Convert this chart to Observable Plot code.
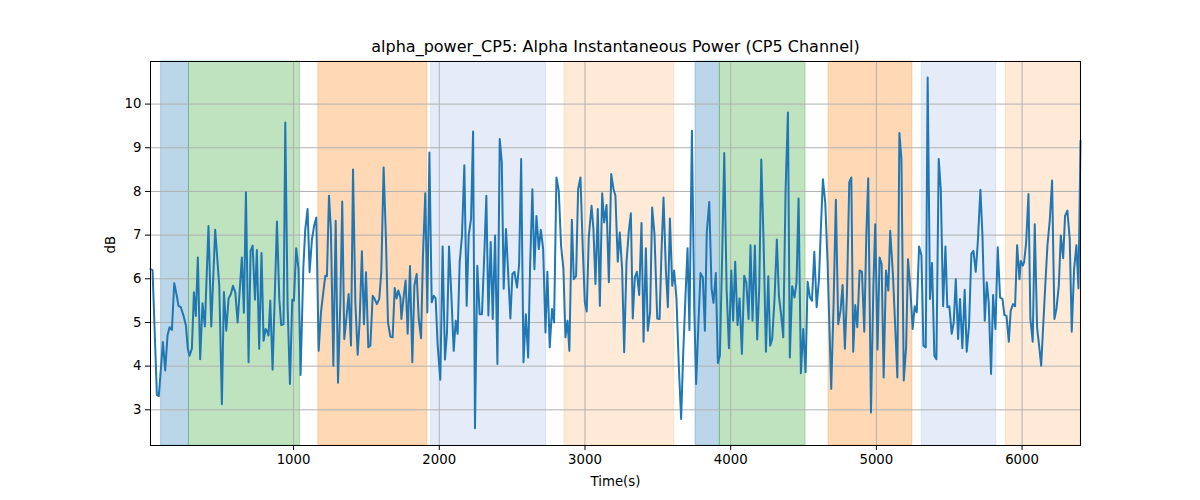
<!DOCTYPE html>
<html><head><meta charset="utf-8">
<script src="https://cdn.jsdelivr.net/npm/d3@7"></script>
<script src="https://cdn.jsdelivr.net/npm/@observablehq/plot@0.6"></script>
<style>body{margin:0;background:#fff;font-family:"DejaVu Sans",sans-serif;}</style>
</head><body><div id="chart"></div>
<script>
const title = "alpha_power_CP5: Alpha Instantaneous Power (CP5 Channel)";
const xLabel = "Time(s)";
const yLabel = "dB";
const xTicks = [1000, 2000, 3000, 4000, 5000, 6000];
const yTicks = [3, 4, 5, 6, 7, 8, 9, 10];

const spanStart = [91, 282, 1170, 1944, 2859, 3759, 3926, 4672, 5311, 5888];
const spanEnd   = [282, 1044, 1918, 2733, 3613, 3926, 4514, 5247, 5824, 6401];
const spanKind  = ["blue", "green", "orange", "lightblue", "lightorange", "blue", "green", "orange", "lightblue", "lightorange"];

const time = [
18,32,62,75,103,119,135,149,165,181,199,210,226,245,261,274,286,302,316,329,343,359,375,391,416,435,462,490,508,522,538,554,570,584,600,616,645,659,673,691,705,719,735,748,764,780,794,808,819,828,840,856,886,902,915,931,943,959,975,991,1002,1018,1034,1048,1067,1080,1096,1110,1126,1142,1156,1172,1188,1204,1218,1229,1243,1256,
1273,1289,1305,1321,1334,1348,1362,1378,1394,1408,1424,1440,1453,1469,1483,1497,1513,1527,1543,1556,1572,1588,1602,1618,1634,1648,1664,1680,1694,1707,1719,1733,1740,1756,1769,1783,1799,1815,1829,1845,1859,1875,1888,1904,1918,1932,1948,1962,1975,1989,2007,2023,2039,2053,2067,2083,2099,2113,2126,2140,2156,2172,2188,2202,2218,2232,2245,2261,2277,2293,2310,2323,2337,2353,2367,2383,2399,2415,2429,2442,2458,2472,2488,2502,2516,2534,2548,
2562,2578,2594,2610,2623,2639,2653,2667,2683,2697,2713,2729,2742,2758,2774,2788,2804,2820,2836,2852,2866,2880,2893,2910,2923,2939,2953,2969,2985,2999,3012,3026,3045,3058,3072,3088,3102,3118,3132,3148,3164,3180,3196,3209,3225,3239,3255,3269,3285,3301,3315,3328,3342,3356,3372,3388,3402,3418,3431,3447,3461,3477,3496,3512,3525,3539,3555,3569,3583,3599,3612,3628,3644,3660,3674,3690,3704,3717,3734,3750,3763,3779,3793,3809,3823,
3836,3853,3869,3882,3898,3912,3926,3942,3956,3972,3988,4004,4017,4031,4047,4061,4077,4093,4107,4123,4136,4150,4166,4182,4196,4210,4226,4242,4258,4271,4285,4301,4317,4331,4347,4361,4377,4393,4406,4422,4438,4452,4466,4482,4498,4514,4528,4544,4558,4574,4590,4606,4619,4633,4649,4665,4690,4706,4722,4738,4754,4768,4784,4798,4814,4828,4841,4855,4869,4885,4901,4917,4931,4944,4963,4979,4992,5008,5022,5036,5050,5066,5082,5095,
5114,5128,5144,5158,5172,5188,5204,5217,5233,5249,5263,5277,5293,5309,5323,5339,5352,5368,5382,5398,5412,5428,5442,5458,5474,5487,5501,5517,5531,5545,5561,5574,5590,5606,5620,5636,5652,5666,5682,5696,5714,5728,5744,5758,5771,5787,5801,5817,5833,5849,5865,5879,5893,5909,5922,5938,5952,5966,5982,5991,6005,6014,6028,6044,6057,6073,6087,6103,6117,6131,6158,6174,6190,6206,6222,6236,6252,6266,6282,6295,6311,6327,6341,6357,6373,6387,6401
];
const power = [
6.22,6.2,3.34,3.31,4.55,3.9,4.71,4.89,4.83,5.9,5.6,5.38,5.35,5.15,4.93,4.4,4.24,4.4,5.69,5.15,6.49,4.16,5.44,4.91,7.21,4.91,7.12,5.84,3.13,5.7,4.81,5.55,5.65,5.84,5.69,5.0,6.49,5.22,7.98,4.09,6.64,6.76,5.52,6.66,4.4,6.59,4.58,4.85,4.79,4.7,5.5,3.92,7.31,5.54,4.94,4.96,9.58,5.38,3.59,5.52,5.5,6.7,6.22,3.8,6.26,7.12,7.6,6.15,6.9,7.23,7.4,4.35,5.23,5.69,6.07,6.06,7.9,7.14,
4.01,7.33,3.62,5.46,7.77,4.62,5.08,5.65,4.47,8.5,5.46,4.26,5.0,6.63,4.96,6.15,4.43,4.47,5.61,5.54,5.42,5.54,6.15,8.55,6.91,5.0,4.68,4.66,5.79,5.55,5.73,5.57,5.08,5.61,5.96,4.74,6.29,4.09,5.84,6.11,5.08,4.64,6.53,7.96,5.23,8.89,5.46,5.61,5.55,4.47,3.69,6.74,4.15,4.77,6.74,5.61,4.35,5.04,4.74,6.38,6.99,8.6,5.38,6.99,7.37,9.37,2.58,6.3,5.19,5.19,6.64,7.9,5.16,6.84,5.08,6.99,4.05,9.2,8.67,5.77,7.14,6.19,5.09,6.11,6.16,5.8,6.34,
8.74,4.09,5.19,4.2,6.22,8.05,6.22,7.44,6.68,7.12,6.68,4.77,6.16,4.43,5.31,5.0,8.32,8.02,6.76,6.22,4.66,5.04,4.35,7.35,5.99,6.06,8.05,8.32,6.68,5.46,5.25,6.95,7.67,7.14,5.88,7.6,5.38,7.96,7.29,7.69,5.92,8.4,8.05,7.9,6.39,7.06,6.22,4.32,6.38,7.1,7.5,5.09,6.03,6.16,5.63,7.28,4.56,6.7,4.81,5.23,7.63,7.02,5.09,5.08,6.6,7.86,6.22,5.35,7.38,5.84,6.19,5.54,4.01,2.79,4.28,5.61,6.7,4.83,9.39,5.31,3.59,5.0,6.13,6.03,4.81,
7.06,7.76,5.77,5.45,6.13,4.07,4.24,6.6,8.88,5.77,4.41,6.19,5.04,6.39,4.94,5.55,4.28,6.07,5.92,5.08,6.77,5.04,6.76,4.61,5.78,8.73,6.83,4.33,6.06,4.47,4.62,5.54,6.9,5.61,5.15,4.66,8.04,9.81,4.2,5.83,5.57,5.92,7.84,3.84,4.85,3.86,5.93,5.57,5.5,6.62,5.35,5.99,7.14,8.28,7.75,6.38,3.48,5.38,7.81,4.96,5.27,5.86,4.4,5.65,8.21,8.32,4.33,5.4,4.89,6.19,6.16,4.79,6.99,8.3,2.94,5.77,7.25,4.38,6.49,6.34,3.74,6.19,5.73,7.1,
6.07,5.0,3.74,9.34,8.74,3.67,4.43,6.45,5.77,4.85,5.37,5.23,6.74,6.54,4.47,4.43,10.61,5.54,6.36,4.24,4.16,8.74,8.05,5.37,6.74,5.35,5.37,4.74,5.0,5.99,4.62,5.54,4.41,5.75,4.33,4.93,6.57,6.64,6.16,6.83,8.04,6.99,5.04,5.92,5.46,3.82,5.63,4.85,6.72,5.57,5.54,5.17,5.15,4.56,5.27,5.42,5.37,6.77,5.99,6.41,6.3,6.38,6.83,7.94,5.08,4.56,7.25,4.89,4.47,4.01,5.77,6.76,7.33,8.25,5.08,5.31,5.84,6.99,6.47,7.44,7.56,6.91,4.79,6.22,6.77,5.78,9.16
];

const kindStyle = {
  blue: {color: "#1f77b4", opacity: 0.3},
  green: {color: "#2ca02c", opacity: 0.3},
  orange: {color: "#ff7f0e", opacity: 0.3},
  lightblue: {color: "#6f93d6", opacity: 0.18},
  lightorange: {color: "#ff7f0e", opacity: 0.16}
};

const spans = spanStart.map((s, i) => ({start: s, end: spanEnd[i], kind: spanKind[i]}));
const series = time.map((t, i) => ({t, v: power[i]}));

const spanMarks = Object.keys(kindStyle).map(k => Plot.rect(spans.filter(d => d.kind === k), {
  x1: "start", x2: "end",
  fill: kindStyle[k].color, fillOpacity: kindStyle[k].opacity,
  stroke: kindStyle[k].color, strokeOpacity: kindStyle[k].opacity, strokeWidth: 1
}));

const chart = Plot.plot({
  width: 1200, height: 500,
  marginLeft: 150, marginRight: 120, marginTop: 61, marginBottom: 55,
  style: {fontFamily: "DejaVu Sans, sans-serif", fontSize: "13.3px", color: "black", background: "white"},
  x: {domain: [time[0], time[time.length - 1]]},
  y: {domain: [2.183, 10.975]},
  marks: [
    ...spanMarks,
    Plot.gridX(xTicks, {stroke: "#b0b0b0", strokeOpacity: 1, strokeWidth: 1}),
    Plot.gridY(yTicks, {stroke: "#b0b0b0", strokeOpacity: 1, strokeWidth: 1}),
    Plot.line(series, {x: "t", y: "v", stroke: "#1f77b4", strokeWidth: 2}),
    Plot.frame({stroke: "black", strokeWidth: 1}),
    Plot.axisX(xTicks, {tickSize: 5, tickPadding: 4, fontSize: 13.3, label: null, tickFormat: d => String(d)}),
    Plot.axisY(yTicks, {tickSize: 5, tickPadding: 4, fontSize: 13.3, label: null, tickFormat: d => String(d)}),
    Plot.text([title], {frameAnchor: "top", dy: -15, lineAnchor: "middle", fontSize: 16, fill: "black"}),
    Plot.text([xLabel], {frameAnchor: "bottom", dy: 36, lineAnchor: "middle", fontSize: 13.3, fill: "black"}),
    Plot.text([yLabel], {frameAnchor: "left", dx: -40, rotate: -90, fontSize: 13.3, fill: "black"})
  ]
});
document.getElementById("chart").appendChild(chart);
</script>
</body></html>
